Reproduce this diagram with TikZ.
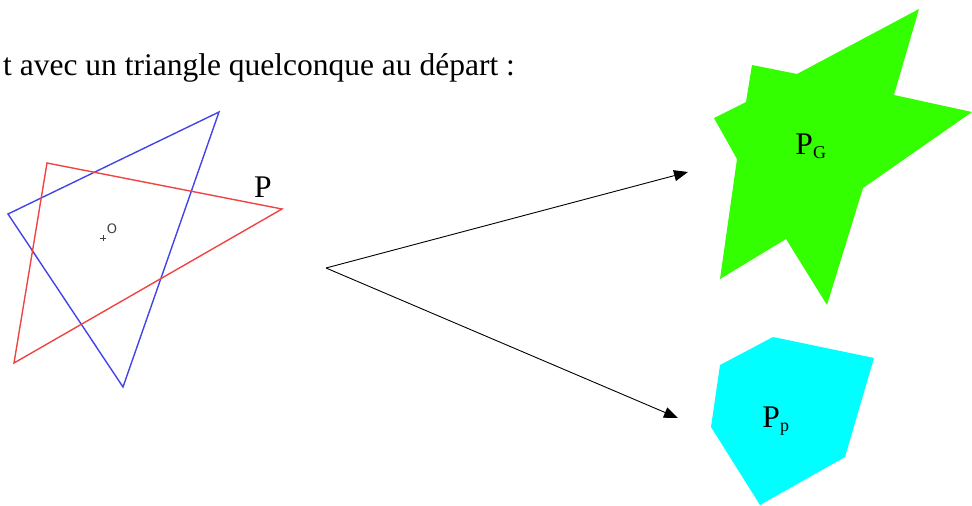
\documentclass[tikz,border=0pt]{standalone}
\usepackage{fontspec}
\setmainfont{Liberation Serif}
\newfontfamily\labelsans{DejaVu Sans}
\usetikzlibrary{positioning, calc, arrows.meta}

\definecolor{trired}{RGB}{238,68,68}
\definecolor{triblue}{RGB}{68,68,230}
\definecolor{polygreen}{RGB}{51,255,0}
\definecolor{polycyan}{RGB}{0,255,255}

\tikzset{
    bigtext/.style={font=\fontsize{31.5}{38}\selectfont, inner sep=0pt},
    mapsto/.style={-{Triangle[length=14pt, width=11pt]}, line width=0.9pt}
}

\begin{document}
\begin{tikzpicture}[x=1pt, y=-1pt]
    \useasboundingbox (0,0) rectangle (972,506);

    % intro line
    \node[bigtext, anchor=base west] (intro) at (3,75) {t avec un triangle quelconque au d\'epart :};

    % the two triangles
    \draw[triblue, line width=1.4pt, line join=miter] (219,112) -- (8,214) -- (123,387) -- cycle;
    \draw[trired, line width=1.4pt, line join=miter] (47,163) -- (282,209) -- (14,363) -- cycle;
    \node[bigtext] (plabel) at (263,187) {P};

    % centre O
    \draw[black!75, line width=0.7pt] (100,238) -- (106,238) (103,235) -- (103,241);
    \node[font=\labelsans\fontsize{13}{13}\selectfont, text=black!75, inner sep=0pt] (centre) at (112,229) {O};

    % the two results
    \fill[polygreen] (919,9) -- (894,95) -- (972,112) -- (863,188) -- (827,305)
        -- (786,239) -- (720,279) -- (737,159) -- (714,118) -- (746,102)
        -- (752,65) -- (797,74) -- cycle;
    \node[bigtext] (pg) at (811,146) {P\textsubscript{\fontsize{18}{18}\selectfont G}};

    \fill[polycyan] (773,337) -- (874,358) -- (845,457) -- (760,505)
        -- (711,427) -- (720,365) -- cycle;
    \node[bigtext] (pp) at (776,421) {P\textsubscript{\fontsize{18}{18}\selectfont p}};

    % arrows
    \coordinate (split) at (326,268);
    \coordinate (togreen) at (688,172);
    \coordinate (tocyan) at (678,418);
    \draw[mapsto] (split) -- (togreen);
    \draw[mapsto] (split) -- (tocyan);

\end{tikzpicture}
\end{document}
